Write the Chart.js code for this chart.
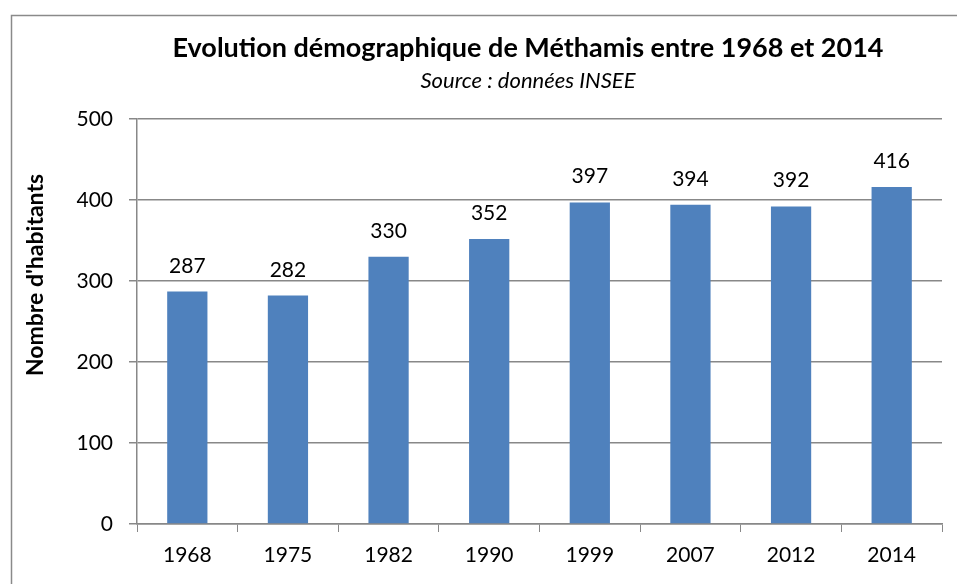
<!DOCTYPE html>
<html>
<head>
<meta charset="utf-8">
<script src="https://cdn.jsdelivr.net/npm/chart.js@4/dist/chart.umd.min.js"></script>
<style>
html,body{margin:0;padding:0;background:#fff;}
#wrap{width:957px;height:584px;position:relative;}
</style>
</head>
<body>
<div id="wrap"><canvas id="c" width="957" height="584"></canvas></div>
<script>
const categories = ["1968","1975","1982","1990","1999","2007","2012","2014"];
const habitants = [287, 282, 330, 352, 397, 394, 392, 416];
const yTicks = [0, 100, 200, 300, 400, 500];
const titleText = "Evolution démographique de Méthamis entre 1968 et 2014";
const subtitleText = "Source : données INSEE";
const yAxisTitle = "Nombre d'habitants";

const FONT = "Lato, 'Open Sans', sans-serif";
const GRID = "#888888";

const framePlugin = {
  id: 'frame',
  beforeDraw(chart) {
    const ctx = chart.ctx;
    ctx.save();
    ctx.fillStyle = '#fff';
    ctx.fillRect(0, 0, chart.width, chart.height);
    ctx.strokeStyle = '#8a8a8a';
    ctx.lineWidth = 1.5;
    ctx.beginPath();
    ctx.moveTo(11.5, chart.height + 5);
    ctx.lineTo(11.5, 15.5);
    ctx.lineTo(chart.width + 5, 15.5);
    ctx.stroke();
    ctx.restore();
  },
  afterDraw(chart) {
    const ctx = chart.ctx;
    ctx.save();
    ctx.fillStyle = '#000';
    ctx.textAlign = 'center';
    ctx.textBaseline = 'alphabetic';
    ctx.font = "bold 27px " + FONT;
    ctx.fillText(titleText, 528, 57);
    ctx.font = "italic 22px " + FONT;
    ctx.fillText(subtitleText, 528, 88);
    ctx.translate(36, 275);
    ctx.rotate(-Math.PI / 2);
    ctx.font = "bold 23px " + FONT;
    ctx.textBaseline = 'middle';
    ctx.fillText(yAxisTitle, 0, 0);
    ctx.restore();
  }
};

const labelPlugin = {
  id: 'barLabels',
  afterDatasetsDraw(chart) {
    const ctx = chart.ctx;
    const meta = chart.getDatasetMeta(0);
    ctx.save();
    ctx.font = "21px " + FONT;
    ctx.fillStyle = '#000';
    ctx.textAlign = 'center';
    ctx.textBaseline = 'alphabetic';
    meta.data.forEach((bar, i) => {
      ctx.fillText(String(chart.data.datasets[0].data[i]), bar.x, bar.y - 19);
    });
    ctx.restore();
  }
};

new Chart(document.getElementById('c'), {
  type: 'bar',
  data: {
    labels: categories,
    datasets: [{
      data: habitants,
      backgroundColor: '#4F81BD',
      borderWidth: 0,
      barPercentage: 1,
      categoryPercentage: 0.4
    }]
  },
  options: {
    responsive: false,
    animation: false,
    layout: { padding: { left: 0, right: 15, top: 119, bottom: 0 } },
    plugins: {
      legend: { display: false },
      tooltip: { enabled: false },
      title: { display: false },
      subtitle: { display: false }
    },
    scales: {
      x: {
        afterFit(scale) { scale.height = 60; },
        grid: { display: true, drawOnChartArea: false, drawTicks: true, tickLength: 8, color: GRID, offset: true },
        border: { display: true, color: GRID, width: 1.5 },
        ticks: { color: '#000', font: { family: FONT, size: 21 }, padding: 11 }
      },
      y: {
        min: 0, max: 500,
        afterFit(scale) { scale.width = 137; },
        afterBuildTicks(scale) { scale.ticks = yTicks.map(v => ({ value: v })); },
        grid: { color: GRID, lineWidth: 1.5, tickLength: 8 },
        border: { display: true, color: GRID, width: 1.5 },
        ticks: { color: '#000', font: { family: FONT, size: 21 }, padding: 16 }
      }
    }
  },
  plugins: [framePlugin, labelPlugin]
});
</script>
</body>
</html>
